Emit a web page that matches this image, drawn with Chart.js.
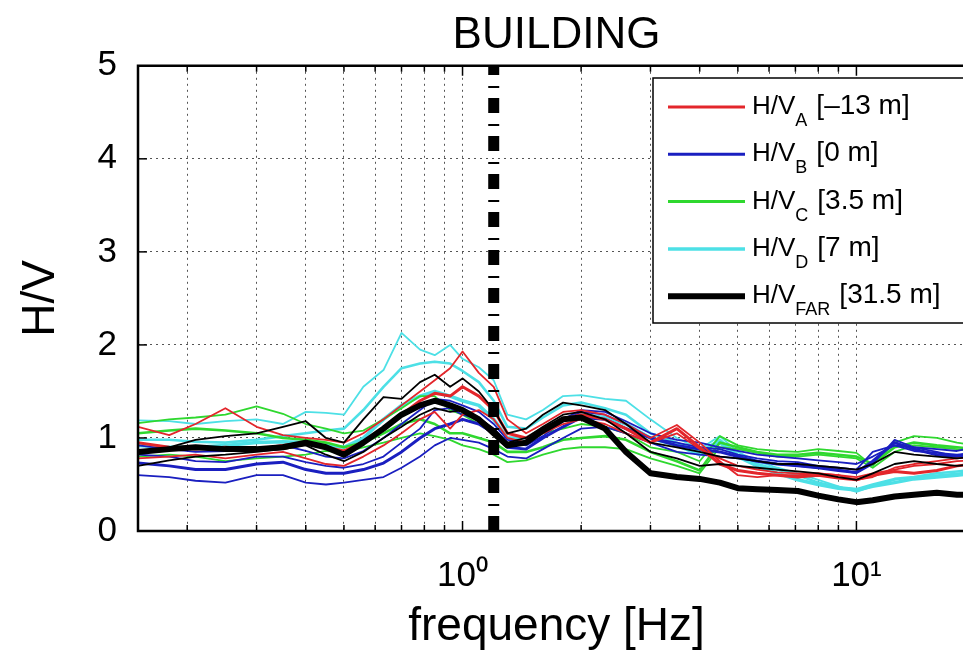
<!DOCTYPE html>
<html>
<head>
<meta charset="utf-8">
<title>BUILDING H/V</title>
<script src="https://cdn.jsdelivr.net/npm/chart.js@4.4.1/dist/chart.umd.min.js"></script>
<style>
html, body { margin: 0; padding: 0; background: #fff; overflow: hidden; }
#wrap { width: 999px; height: 657px; }
</style>
</head>
<body>
<div id="wrap"><canvas id="hvChart" width="999" height="657"></canvas></div>
<script>
// frequency samples [Hz]
const freqs = [0.15, 0.18, 0.21, 0.25, 0.3, 0.35, 0.4, 0.45, 0.5, 0.56, 0.63, 0.7, 0.78, 0.85, 0.93, 1.0,
    1.1, 1.2, 1.3, 1.45, 1.6, 1.8, 2.0, 2.3, 2.6, 3.0, 3.5, 4.0, 4.5, 5.0, 5.6, 6.3, 7.1, 8.0, 9.0, 10,
    11, 12.5, 14, 16, 18, 20];

// H/V_A [-13 m] (red)
const hvA1 = [1.12, 1.03, 1.15, 1.32, 1.12, 1.03, 1.0, 0.98, 0.95, 1.05, 1.2, 1.35, 1.5, 1.62, 1.75, 1.93,
    1.7, 1.55, 1.2, 1.05, 1.15, 1.28, 1.3, 1.25, 1.15, 1.0, 1.14, 0.95, 0.75, 0.6, 0.58, 0.6, 0.6, 0.62, 0.6, 0.55,
    0.58, 0.68, 0.72, 0.75, 0.78, 0.8];
const hvA2 = [0.95, 0.9, 0.88, 0.9, 0.88, 0.92, 0.95, 0.9, 0.86, 0.95, 1.1, 1.25, 1.4, 1.48, 1.45, 1.55,
    1.45, 1.3, 1.05, 1.0, 1.1, 1.2, 1.25, 1.2, 1.1, 0.95, 1.1, 0.9, 0.72, 0.65, 0.62, 0.6, 0.58, 0.6, 0.57, 0.55,
    0.6, 0.64, 0.62, 0.65, 0.7, 0.72];
const hvA3 = [0.78, 0.8, 0.82, 0.78, 0.82, 0.85, 0.78, 0.72, 0.7, 0.8, 0.92, 1.05, 1.2, 1.28, 1.1, 1.25,
    1.3, 1.2, 1.0, 0.95, 1.05, 1.15, 1.2, 1.15, 1.05, 0.95, 1.05, 0.88, 0.78, 0.7, 0.66, 0.63, 0.62, 0.62, 0.6, 0.58,
    0.62, 0.66, 0.7, 0.72, 0.75, 0.76];

// H/V_B [0 m] (blue)
const hvB1 = [0.6, 0.58, 0.54, 0.52, 0.6, 0.6, 0.52, 0.5, 0.52, 0.55, 0.58, 0.68, 0.8, 0.92, 1.0, 0.98,
    0.95, 0.88, 0.8, 0.78, 0.88, 1.0, 1.1, 1.12, 1.05, 0.95, 0.85, 0.82, 0.8, 0.78, 0.75, 0.72, 0.7, 0.68, 0.66, 0.62,
    0.72, 0.98, 0.9, 0.85, 0.8, 0.82];
const hvB2 = [0.73, 0.7, 0.66, 0.66, 0.72, 0.74, 0.66, 0.62, 0.62, 0.66, 0.73, 0.85, 1.0, 1.1, 1.15, 1.2,
    1.15, 1.05, 0.9, 0.88, 1.0, 1.12, 1.22, 1.2, 1.1, 1.0, 0.92, 0.88, 0.85, 0.8, 0.75, 0.72, 0.7, 0.68, 0.65, 0.63,
    0.75, 0.95, 0.88, 0.82, 0.8, 0.85];
const hvB3 = [0.92, 0.88, 0.85, 0.86, 0.88, 0.92, 0.86, 0.8, 0.78, 0.86, 1.0, 1.15, 1.3, 1.42, 1.4, 1.35,
    1.28, 1.15, 0.98, 0.95, 1.08, 1.2, 1.3, 1.28, 1.18, 1.05, 0.98, 0.95, 0.9, 0.86, 0.82, 0.8, 0.78, 0.76, 0.74, 0.72,
    0.8, 0.92, 0.9, 0.88, 0.86, 0.9];
const hvB4 = [0.82, 0.8, 0.75, 0.74, 0.8, 0.8, 0.74, 0.7, 0.68, 0.72, 0.8, 0.95, 1.1, 1.3, 1.32, 1.25,
    1.2, 1.1, 0.95, 0.92, 1.02, 1.18, 1.28, 1.25, 1.15, 1.0, 0.95, 0.9, 0.88, 0.82, 0.78, 0.75, 0.74, 0.7, 0.68, 0.66,
    0.85, 0.92, 0.86, 0.84, 0.82, 0.84];

// H/V_C [3.5 m] (green)
const hvC1 = [1.16, 1.2, 1.22, 1.25, 1.34, 1.26, 1.15, 1.1, 1.05, 1.08, 1.2, 1.32, 1.45, 1.45, 1.3, 1.25,
    1.15, 1.05, 0.92, 0.95, 1.05, 1.1, 1.15, 1.12, 1.05, 0.9, 0.85, 0.75, 1.02, 0.92, 0.88, 0.86, 0.85, 0.88, 0.86, 0.84,
    0.7, 0.95, 1.02, 1.0, 0.95, 0.92];
const hvC2 = [1.05, 1.08, 1.1, 1.08, 1.05, 1.0, 0.98, 0.95, 0.9, 0.95, 1.05, 1.15, 1.2, 1.15, 1.05, 1.05,
    1.0, 0.95, 0.85, 0.85, 0.9, 0.98, 1.0, 1.02, 0.98, 0.85, 0.75, 0.65, 0.95, 0.9, 0.85, 0.82, 0.82, 0.84, 0.82, 0.8,
    0.72, 0.9, 0.95, 0.92, 0.9, 0.88];
const hvC3 = [0.8, 0.82, 0.8, 0.75, 0.78, 0.8, 0.82, 0.86, 0.85, 0.9, 0.95, 1.0, 1.05, 1.02, 0.98, 0.92,
    0.88, 0.82, 0.74, 0.76, 0.82, 0.88, 0.9, 0.9, 0.88, 0.78, 0.7, 0.62, 0.9, 0.88, 0.84, 0.8, 0.8, 0.82, 0.8, 0.78,
    0.68, 0.85, 0.92, 0.9, 0.88, 0.85];

// H/V_D [7 m] (cyan)
const hvD1 = [1.19, 1.18, 1.15, 1.18, 1.2, 1.15, 1.28, 1.27, 1.25, 1.55, 1.73, 2.13, 1.95, 1.89, 2.0, 1.85,
    1.76, 1.62, 1.25, 1.2, 1.3, 1.45, 1.46, 1.42, 1.4, 1.2, 1.0, 0.88, 1.02, 0.85, 0.75, 0.68, 0.62, 0.55, 0.48, 0.42,
    0.48, 0.55, 0.58, 0.6, 0.62, 0.64];
const hvD2 = [0.98, 0.98, 0.96, 0.95, 0.98, 1.02, 1.05, 1.08, 1.1, 1.3, 1.55, 1.75, 1.8, 1.82, 1.8, 1.72,
    1.6, 1.4, 1.12, 1.1, 1.22, 1.35, 1.38, 1.32, 1.25, 1.05, 0.95, 0.85, 0.98, 0.82, 0.72, 0.66, 0.6, 0.52, 0.47, 0.45,
    0.5, 0.56, 0.58, 0.62, 0.64, 0.66];
const hvD3 = [0.92, 0.9, 0.9, 0.92, 0.95, 0.96, 0.95, 0.92, 0.9, 1.0, 1.2, 1.35, 1.45, 1.5, 1.45, 1.4,
    1.35, 1.2, 1.0, 1.0, 1.1, 1.2, 1.25, 1.22, 1.15, 1.0, 0.92, 0.82, 0.95, 0.8, 0.7, 0.62, 0.55, 0.5, 0.46, 0.44,
    0.48, 0.52, 0.56, 0.58, 0.6, 0.62];

// thin black curves
const hvE1 = [0.84, 0.9, 0.98, 1.02, 1.05, 1.12, 1.18, 1.0, 0.95, 1.2, 1.44, 1.42, 1.6, 1.68, 1.55, 1.64,
    1.5, 1.3, 1.05, 1.1, 1.25, 1.38, 1.35, 1.3, 1.15, 0.95, 0.9, 0.85, 0.8, 0.78, 0.75, 0.72, 0.72, 0.7, 0.68, 0.66,
    0.72, 0.85, 0.82, 0.8, 0.78, 0.8];
const hvE2 = [0.7, 0.76, 0.8, 0.82, 0.85, 0.88, 0.92, 0.82, 0.75, 0.85, 1.0, 1.12, 1.25, 1.32, 1.28, 1.3,
    1.22, 1.1, 0.95, 1.0, 1.12, 1.25, 1.28, 1.2, 1.05, 0.85, 0.78, 0.7, 0.72, 0.7, 0.68, 0.66, 0.64, 0.62, 0.58, 0.55,
    0.62, 0.72, 0.75, 0.72, 0.7, 0.72];

// H/V_FAR [31.5 m] (thick black)
const hvFar = [0.85, 0.88, 0.9, 0.88, 0.88, 0.9, 0.95, 0.9, 0.82, 0.95, 1.1, 1.25, 1.35, 1.4, 1.35, 1.3,
    1.2, 1.05, 0.92, 0.95, 1.08, 1.2, 1.22, 1.1, 0.85, 0.62, 0.58, 0.56, 0.52, 0.46, 0.45, 0.44, 0.43, 0.38, 0.34, 0.31,
    0.33, 0.37, 0.39, 0.41, 0.39, 0.39];

const markerFreq = 1.2;
const xTicks = [0.2, 0.3, 0.4, 0.5, 0.6, 0.7, 0.8, 0.9, 1, 2, 3, 4, 5, 6, 7, 8, 9, 10, 20];
const yTicks = [0, 1, 2, 3, 4, 5];

const RED = '#e3262b', BLUE = '#1a1fc0', GREEN = '#2fd82f', CYAN = '#4de0e6', BLACK = '#000000';
const FONT = "'Liberation Sans', Arial, Helvetica, sans-serif";

const legendItems = [
    { sub: 'A', rest: '[\u201313 m]', color: RED, width: 3 },
    { sub: 'B', rest: '[0 m]', color: BLUE, width: 3 },
    { sub: 'C', rest: '[3.5 m]', color: GREEN, width: 3 },
    { sub: 'D', rest: '[7 m]', color: CYAN, width: 3.5 },
    { sub: 'FAR', rest: '[31.5 m]', color: BLACK, width: 6 }
];

function curve(vals, color, width) {
    return {
        data: freqs.map((f, i) => ({ x: f, y: vals[i] })),
        borderColor: color,
        borderWidth: width,
        pointRadius: 0,
        tension: 0,
        fill: false,
        borderJoinStyle: 'round'
    };
}

const datasets = [
    {
        data: [{ x: markerFreq, y: 0 }, { x: markerFreq, y: 5 }],
        borderColor: BLACK,
        borderWidth: 11,
        borderDash: [15, 10, 2, 11],
        borderCapStyle: 'butt',
        pointRadius: 0
    },
    curve(hvFar, BLACK, 6),
    curve(hvE1, BLACK, 1.8),
    curve(hvE2, BLACK, 1.8),
    curve(hvA1, RED, 1.8),
    curve(hvA2, RED, 3),
    curve(hvA3, RED, 1.8),
    curve(hvB1, BLUE, 1.8),
    curve(hvB2, BLUE, 3),
    curve(hvB3, BLUE, 1.8),
    curve(hvB4, BLUE, 1.8),
    curve(hvC1, GREEN, 1.8),
    curve(hvC2, GREEN, 2.6),
    curve(hvC3, GREEN, 1.8),
    curve(hvD1, CYAN, 1.8),
    curve(hvD2, CYAN, 2.6),
    curve(hvD3, CYAN, 3.5)
];

// frame, inward tick marks and the legend box
const framePlugin = {
    id: 'frame',
    afterDatasetsDraw(chart) {
        const { ctx, chartArea: a, scales } = chart;
        ctx.save();
        ctx.strokeStyle = '#000';
        ctx.lineWidth = 1.5;
        xTicks.forEach(v => {
            const px = scales.x.getPixelForValue(v);
            const len = (v === 1 || v === 10) ? 10 : 6;
            ctx.beginPath();
            ctx.moveTo(px, a.bottom); ctx.lineTo(px, a.bottom - len);
            ctx.moveTo(px, a.top); ctx.lineTo(px, a.top + len);
            ctx.stroke();
        });
        yTicks.forEach(v => {
            const py = scales.y.getPixelForValue(v);
            ctx.beginPath();
            ctx.moveTo(a.left, py); ctx.lineTo(a.left + 9, py);
            ctx.stroke();
        });
        ctx.lineWidth = 2.5;
        ctx.beginPath();
        ctx.moveTo(a.right, a.top);
        ctx.lineTo(a.left, a.top);
        ctx.lineTo(a.left, a.bottom);
        ctx.lineTo(a.right, a.bottom);
        ctx.stroke();

        // legend
        const bx = 653, by = 78, bw = 340, bh = 245;
        ctx.fillStyle = '#fff';
        ctx.fillRect(bx, by, bw, bh);
        ctx.lineWidth = 1.5;
        ctx.strokeRect(bx, by, bw, bh);
        legendItems.forEach((it, i) => {
            const y = 107 + i * 47.3;
            ctx.strokeStyle = it.color;
            ctx.lineWidth = it.width;
            ctx.beginPath();
            ctx.moveTo(668, y); ctx.lineTo(745, y);
            ctx.stroke();
            ctx.fillStyle = '#000';
            ctx.textBaseline = 'alphabetic';
            ctx.font = '26px ' + FONT;
            ctx.fillText('H/V', 752, y + 7);
            let x = 752 + ctx.measureText('H/V').width;
            ctx.font = '18px ' + FONT;
            ctx.fillText(it.sub, x, y + 19);
            x += ctx.measureText(it.sub).width + 9;
            ctx.font = '28px ' + FONT;
            ctx.fillText(it.rest, x, y + 7);
        });
        ctx.restore();
    }
};

new Chart(document.getElementById('hvChart'), {
    type: 'line',
    data: { datasets: datasets },
    plugins: [framePlugin],
    options: {
        responsive: false,
        animation: false,
        layout: { padding: { left: 0, right: 12, top: 0, bottom: 0 } },
        plugins: {
            legend: { display: false },
            tooltip: { enabled: false },
            title: {
                display: true,
                text: 'BUILDING',
                fullSize: false,
                color: '#000',
                font: { family: FONT, size: 44, weight: 'normal' },
                padding: { top: 9, bottom: 4 }
            }
        },
        scales: {
            x: {
                type: 'logarithmic',
                min: 0.15,
                max: 20,
                afterBuildTicks(scale) {
                    scale.ticks = xTicks.map(v => ({ value: v }));
                },
                afterFit(scale) { scale.height = 126; },
                ticks: {
                    autoSkip: false,
                    maxRotation: 0,
                    padding: 24,
                    color: '#000',
                    font: { family: FONT, size: 35 },
                    callback(v) {
                        if (v === 1) return '10\u2070';
                        if (v === 10) return '10\u00b9';
                        return '';
                    }
                },
                grid: { color: '#555', lineWidth: 1, drawTicks: false },
                border: { display: false, dash: [2, 4] },
                title: {
                    display: true,
                    text: 'frequency [Hz]',
                    color: '#000',
                    font: { family: FONT, size: 46 },
                    padding: { top: 0, bottom: 2 }
                }
            },
            y: {
                min: 0,
                max: 5,
                afterBuildTicks(scale) {
                    scale.ticks = yTicks.map(v => ({ value: v }));
                },
                afterFit(scale) { scale.width = 138; },
                ticks: {
                    padding: 21,
                    color: '#000',
                    font: { family: FONT, size: 35 }
                },
                grid: { color: '#555', lineWidth: 1, drawTicks: false },
                border: { display: false, dash: [2, 4] },
                title: {
                    display: true,
                    text: 'H/V',
                    color: '#000',
                    font: { family: FONT, size: 46 },
                    padding: { top: 14, bottom: 0 }
                }
            }
        }
    }
});
</script>
</body>
</html>
